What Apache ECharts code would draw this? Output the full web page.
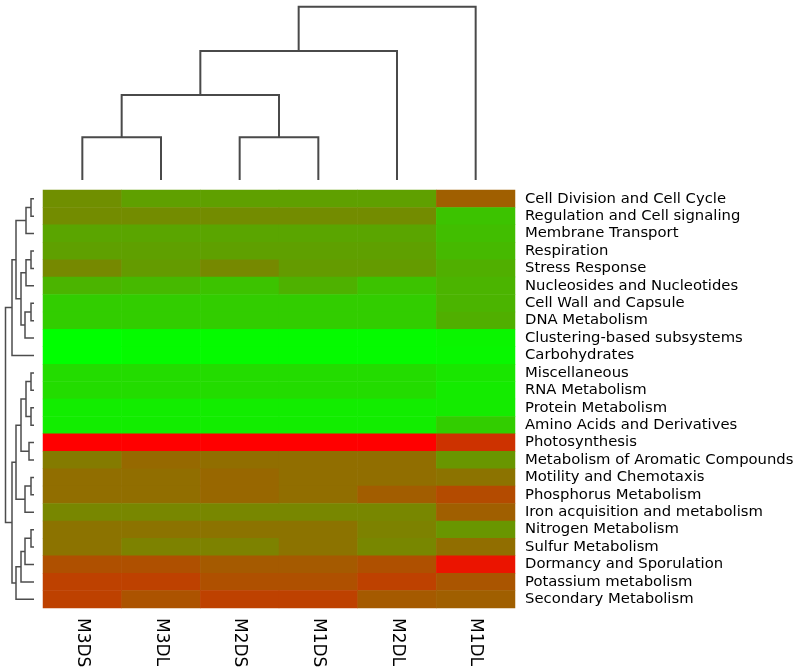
<!DOCTYPE html>
<html><head><meta charset="utf-8">
<script src="https://cdn.jsdelivr.net/npm/echarts@6/dist/echarts.min.js"></script>
<style>html,body{margin:0;padding:0;background:#fff}#c{width:796px;height:670px}</style>
</head><body><div id="c"></div>
<script>
// ---- data ----
const columns = ['M3DS','M3DL','M2DS','M1DS','M2DL','M1DL'];
const rows = ['Cell Division and Cell Cycle','Regulation and Cell signaling','Membrane Transport','Respiration','Stress Response','Nucleosides and Nucleotides','Cell Wall and Capsule','DNA Metabolism','Clustering-based subsystems','Carbohydrates','Miscellaneous','RNA Metabolism','Protein Metabolism','Amino Acids and Derivatives','Photosynthesis','Metabolism of Aromatic Compounds','Motility and Chemotaxis','Phosphorus Metabolism','Iron acquisition and metabolism','Nitrogen Metabolism','Sulfur Metabolism','Dormancy and Sporulation','Potassium metabolism','Secondary Metabolism'];
// values on a 0 (green) .. 255 (red) scale, one array per column
const M3DS = [112,115,90,95,118,75,50,50,0,0,35,35,18,18,255,132,145,145,120,140,140,175,190,190];
const M3DL = [95,115,90,95,100,70,50,50,5,5,35,35,18,18,255,150,145,145,120,140,125,175,190,172];
const M2DS = [95,115,90,95,118,60,50,50,5,5,35,35,18,18,255,145,152,152,120,140,125,165,175,190];
const M1DS = [95,115,90,95,100,78,50,50,5,5,35,35,18,18,255,145,145,145,120,140,140,165,175,190];
const M2DL = [95,115,90,95,100,60,50,50,5,5,35,35,18,18,255,145,145,162,120,125,120,175,190,165];
const M1DL = [160,60,65,70,80,75,75,80,10,8,25,20,20,50,205,105,140,180,160,105,145,235,170,160];
const columnValues = [M3DS, M3DL, M2DS, M1DS, M2DL, M1DL];

// dendrograms: hclust-style merges (negative = leaf, 1-based; positive = earlier merge, 1-based)
const colMerge = [[-1,-2],[-3,-4],[1,2],[3,-5],[4,-6]];
const colHeight = [4.27,4.27,8.5,12.9,17.33];
const rowMerge = [[-1,-2],[1,-3],[-4,-5],[3,-6],[-7,-8],[5,-9],[4,6],[2,7],[8,-10],
  [-11,-12],[-13,-14],[10,11],[-15,-16],[12,13],[-17,-18],[15,-19],[14,16],
  [-20,-21],[18,-22],[19,-23],[20,-24],[17,21],[9,22]];
const rowHeight = [3,8,3,8,3,9,13,18,22,3,3,8,5,13,3,9,18,3,9,13,18,22,28.5];

// ---- build ----
function dendroSegments(merge, height){
  const pos = [], hgt = [];
  const out = [];
  merge.forEach((m, i) => {
    const ch = m.map(c => c < 0 ? {p: -c - 1, h: 0} : {p: pos[c - 1], h: hgt[c - 1]});
    pos[i] = (ch[0].p + ch[1].p) / 2;
    hgt[i] = height[i];
    out.push([ch[0].p, ch[1].p, height[i], ch[0].h, ch[1].h]);
  });
  return out;
}
const heatData = [];
columnValues.forEach((arr, x) => arr.forEach((v, y) => heatData.push([x, y, v])));

const chart = echarts.init(document.getElementById('c'), null, {renderer: 'canvas'});
chart.setOption({
  animation: false,
  backgroundColor: '#fff',
  grid: [
    {left: 43, top: 190, width: 472, height: 418, outerBoundsMode: 'none'},
    {left: 43, top: 6, width: 472, height: 174, outerBoundsMode: 'none'},
    {left: 5, top: 190, width: 29, height: 418, outerBoundsMode: 'none'}
  ],
  xAxis: [
    {gridIndex: 0, type: 'category', data: columns, position: 'bottom',
     axisLine: {show: false}, axisTick: {show: false}, splitLine: {show: false},
     axisLabel: {interval: 0, rotate: -90, margin: 10, fontFamily: 'DejaVu Sans', fontSize: 17, color: '#000'}},
    {gridIndex: 1, type: 'value', min: -0.5, max: 5.5, show: false},
    {gridIndex: 2, type: 'value', min: 0, max: 29, inverse: true, show: false}
  ],
  yAxis: [
    {gridIndex: 0, type: 'category', data: rows, inverse: true, position: 'right',
     axisLine: {show: false}, axisTick: {show: false}, splitLine: {show: false},
     axisLabel: {interval: 0, margin: 10, fontFamily: 'DejaVu Sans', fontSize: 14.8, color: '#000'}},
    {gridIndex: 1, type: 'value', min: 0, max: 17.4, show: false},
    {gridIndex: 2, type: 'value', min: -0.5, max: 23.5, inverse: true, show: false}
  ],
  visualMap: {show: false, min: 0, max: 255, seriesIndex: 0, inRange: {color: ['#00ff00', '#ff0000']}},
  series: [
    {type: 'heatmap', xAxisIndex: 0, yAxisIndex: 0, data: heatData, itemStyle: {borderWidth: 0}},
    {type: 'custom', xAxisIndex: 1, yAxisIndex: 1, clip: false,
     data: dendroSegments(colMerge, colHeight),
     encode: {x: [0, 1], y: [2, 3, 4]},
     renderItem: (params, api) => {
       const x1 = api.value(0), x2 = api.value(1), h = api.value(2), h1 = api.value(3), h2 = api.value(4);
       return {type: 'polyline', shape: {points: [api.coord([x1, h1]), api.coord([x1, h]), api.coord([x2, h]), api.coord([x2, h2])]}, style: {stroke: '#4a4a4a', lineWidth: 2, fill: null}};
     }},
    {type: 'custom', xAxisIndex: 2, yAxisIndex: 2, clip: false,
     data: dendroSegments(rowMerge, rowHeight),
     encode: {y: [0, 1], x: [2, 3, 4]},
     renderItem: (params, api) => {
       const y1 = api.value(0), y2 = api.value(1), h = api.value(2), h1 = api.value(3), h2 = api.value(4);
       return {type: 'polyline', shape: {points: [api.coord([h1, y1]), api.coord([h, y1]), api.coord([h, y2]), api.coord([h2, y2])]}, style: {stroke: '#4d4d4d', lineWidth: 1.5, fill: null}};
     }}
  ]
});
</script>
</body></html>
